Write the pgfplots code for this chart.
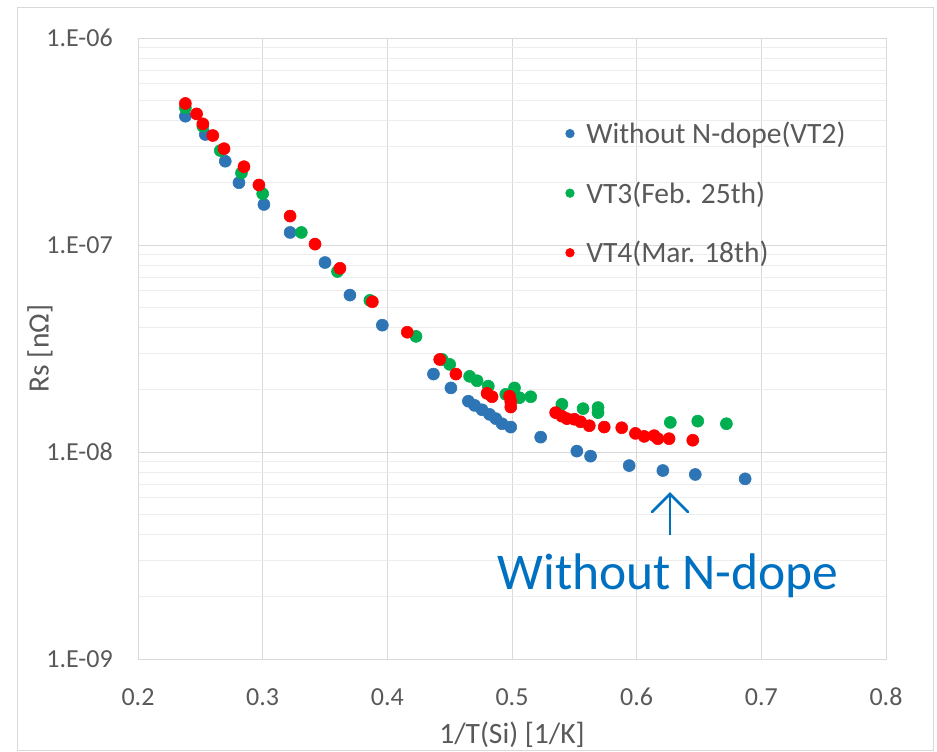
\documentclass[border=0pt]{standalone}
\usepackage{pgfplots}
\pgfplotsset{compat=1.18}
\usepackage{fontspec}
\setmainfont{Carlito}
\definecolor{txtgray}{HTML}{595959}
\definecolor{gridc}{HTML}{D9D9D9}
\definecolor{minorc}{HTML}{EDEDED}
\definecolor{sblue}{HTML}{2E75B6}
\definecolor{sgreen}{HTML}{00B050}
\definecolor{sred}{HTML}{FF0000}
\definecolor{annot}{HTML}{0070C0}
\begin{document}
\begin{tikzpicture}[x=1pt,y=1pt]
\path[use as bounding box] (0pt,0pt) rectangle (937pt,752pt);
\draw[gridc, line width=1pt] (17pt,1pt) rectangle (933pt,744pt);
\begin{axis}[
  at={(138pt,93pt)}, anchor=south west,
  scale only axis, width=748pt, height=621pt,
  xmin=0.2, xmax=0.8, ymode=log, ymin=1e-9, ymax=1e-6,
  xtick={0.2,0.3,0.4,0.5,0.6,0.7,0.8},
  xticklabels={0.2,0.3,0.4,0.5,0.6,0.7,0.8},
  ytick={1e-9,1e-8,1e-7,1e-6},
  yticklabels={1.E-09,1.E-08,1.E-07,1.E-06},
  major tick length=0pt, minor tick length=0pt,
  xmajorgrids, ymajorgrids, yminorgrids,
  major grid style={draw=gridc, line width=1pt},
  minor grid style={draw=minorc, line width=1pt},
  axis line style={draw=gridc, line width=1pt},
  tick label style={font=\fontsize{26}{30}\selectfont, text=txtgray},
  yticklabel style={anchor=east, inner sep=0pt, xshift=-25pt},
  xticklabel style={anchor=north, inner sep=0pt, yshift=-29pt},
  label style={font=\fontsize{29.5}{34}\selectfont, text=txtgray},
  xlabel={1/T(Si) [1/K]},
  ylabel={Rs [nΩ]},
  xlabel style={at={(axis description cs:0.5,-0.1223)}, anchor=center},
  ylabel style={at={(axis description cs:-0.131,0.5)}, anchor=center},
  legend cell align=left,
  legend image code/.code={\draw[#1,mark size=4.3pt] plot coordinates {(0pt,0pt)};},
  legend style={draw=none, fill=none, at={(axis description cs:0.5715,0.865)},
    anchor=north west, inner sep=0pt, row sep=36.5pt, column sep=12pt,
    font=\fontsize{29.5}{34}\selectfont, text=txtgray,
    nodes={inner sep=0pt}},
]
\addplot[only marks, mark=*, color=sblue, mark size=6pt, line width=0.6pt] coordinates {
(0.238,4.19e-7) (0.254,3.42e-7) (0.270,2.54e-7) (0.281,2.00e-7) (0.301,1.57e-7)
(0.322,1.15e-7) (0.350,8.23e-8) (0.370,5.73e-8) (0.396,4.10e-8) (0.437,2.38e-8)
(0.451,2.04e-8) (0.465,1.76e-8) (0.470,1.68e-8) (0.476,1.60e-8) (0.482,1.52e-8)
(0.487,1.45e-8) (0.492,1.37e-8) (0.499,1.32e-8) (0.523,1.18e-8) (0.552,1.01e-8)
(0.563,9.55e-9) (0.594,8.6e-9) (0.621,8.14e-9) (0.647,7.79e-9) (0.687,7.42e-9)
};
\addlegendentry{Without N-dope(VT2)}
\addplot[only marks, mark=*, color=sgreen, mark size=6pt, line width=0.6pt] coordinates {
(0.238,4.6e-7) (0.252,3.75e-7) (0.266,2.86e-7) (0.283,2.23e-7) (0.300,1.77e-7)
(0.331,1.15e-7) (0.360,7.45e-8) (0.386,5.4e-8) (0.423,3.62e-8) (0.444,2.8e-8)
(0.450,2.65e-8) (0.466,2.32e-8) (0.472,2.21e-8) (0.481,2.08e-8) (0.495,1.90e-8)
(0.502,2.04e-8) (0.506,1.83e-8) (0.515,1.85e-8) (0.540,1.70e-8) (0.557,1.62e-8)
(0.569,1.64e-8) (0.569,1.55e-8) (0.627,1.39e-8) (0.649,1.41e-8) (0.672,1.37e-8)
};
\addlegendentry{VT3(Feb. 25th)}
\addplot[only marks, mark=*, color=sred, mark size=6pt, line width=0.6pt] coordinates {
(0.238,4.83e-7) (0.247,4.3e-7) (0.252,3.85e-7) (0.260,3.38e-7) (0.269,2.92e-7)
(0.285,2.39e-7) (0.297,1.95e-7) (0.322,1.38e-7) (0.342,1.01e-7) (0.362,7.72e-8)
(0.388,5.32e-8) (0.416,3.79e-8) (0.442,2.80e-8) (0.455,2.38e-8) (0.480,1.92e-8)
(0.484,1.85e-8) (0.498,1.86e-8) (0.499,1.75e-8) (0.499,1.65e-8) (0.535,1.55e-8)
(0.540,1.49e-8) (0.544,1.45e-8) (0.550,1.44e-8) (0.555,1.40e-8) (0.562,1.34e-8)
(0.574,1.32e-8) (0.588,1.31e-8) (0.599,1.23e-8) (0.606,1.19e-8) (0.614,1.20e-8)
(0.617,1.16e-8) (0.626,1.16e-8) (0.645,1.14e-8)
};
\addlegendentry{VT4(Mar. 18th)}
\end{axis}
\draw[annot, line width=2.6pt] (670pt,217pt) -- (670pt,258pt);
\draw[annot, line width=2.6pt, line cap=round, line join=miter] (652pt,240pt) -- (670pt,258pt) -- (688pt,240pt);
\node[anchor=base, inner sep=0pt, text=annot, font=\fontsize{51.5}{58}\selectfont] at (668pt,162pt) {Without N-dope};
\end{tikzpicture}
\end{document}
